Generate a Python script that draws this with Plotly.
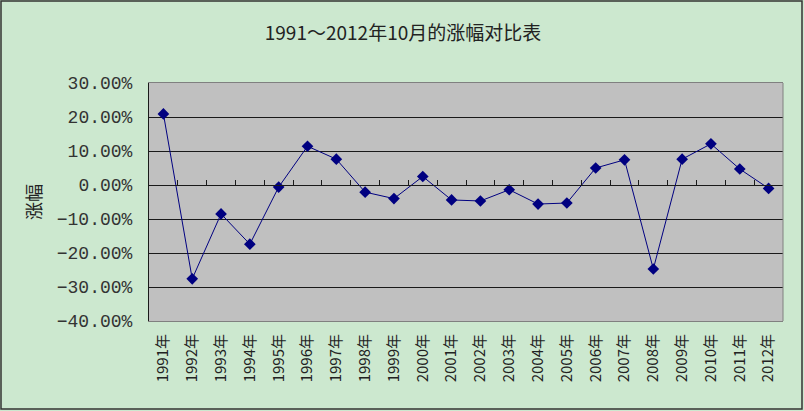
import plotly.graph_objects as go

years = ["1991年", "1992年", "1993年", "1994年", "1995年", "1996年", "1997年", "1998年",
         "1999年", "2000年", "2001年", "2002年", "2003年", "2004年", "2005年", "2006年",
         "2007年", "2008年", "2009年", "2010年", "2011年", "2012年"]
change = [0.209, -0.276, -0.085, -0.174, -0.006, 0.114, 0.076, -0.021,
          -0.040, 0.025, -0.044, -0.047, -0.014, -0.056, -0.053, 0.050,
          0.074, -0.247, 0.076, 0.121, 0.047, -0.010]
y_ticks = [-0.4, -0.3, -0.2, -0.1, 0.0, 0.1, 0.2, 0.3]

W, H = 804, 411
ML, MR, MT, MB = 149, 21, 83, 90
PW, PH = W - ML - MR, H - MT - MB

BG = "#CCE8CF"
PLOT_BG = "#C0C0C0"
NAVY = "#000080"
TXT = "#222222"
CJK = "Noto Sans CJK SC"

fig = go.Figure()
fig.add_trace(go.Scatter(
    x=years, y=change, mode="lines+markers",
    line=dict(color=NAVY, width=1),
    marker=dict(symbol="diamond", size=9, color=NAVY),
    hoverinfo="x+y", showlegend=False,
))
# invisible trace on overlay axis to carry the zero-crossing category axis
fig.add_trace(go.Scatter(x=years, y=change, xaxis="x2", mode="markers",
                         marker=dict(opacity=0), showlegend=False, hoverinfo="skip"))

ymin, ymax = -0.4, 0.3
zero_pos = (0 - ymin) / (ymax - ymin)

fig.update_layout(
    width=W, height=H,
    margin=dict(l=ML, r=MR, t=MT, b=MB, pad=0),
    paper_bgcolor=BG, plot_bgcolor=PLOT_BG,
    title=dict(text="1991～2012年10月的涨幅对比表", x=403 / W, xanchor="center",
               y=1 - 33 / H, yanchor="middle",
               font=dict(family=CJK, size=19, color=TXT)),
    xaxis=dict(type="category", categoryorder="array", categoryarray=years,
               range=[-0.5, len(years) - 0.5],
               showgrid=False, zeroline=False,
               showline=True, linecolor="#808080", linewidth=1, mirror=True,
               ticks="", tickangle=-90,
               tickfont=dict(family=CJK, size=15, color=TXT),
               ticklabelstandoff=6),
    xaxis2=dict(type="category", categoryorder="array", categoryarray=years,
                overlaying="x", anchor="free", position=zero_pos,
                range=[-0.5, len(years) - 0.5], matches="x",
                showgrid=False, zeroline=False, showticklabels=False,
                showline=True, linecolor="#1a1a1a", linewidth=1,
                ticks="inside", tickson="boundaries", ticklen=5,
                tickcolor="#1a1a1a", tickwidth=1),
    yaxis=dict(range=[ymin, ymax], tickvals=y_ticks, tickformat=".2%",
               showgrid=True, gridcolor="#1a1a1a", gridwidth=1,
               zeroline=False, showline=True, linecolor="#1a1a1a", linewidth=1,
               ticks="inside", ticklen=6, tickcolor="#1a1a1a",
               tickfont=dict(family="Liberation Mono", size=18, color="#333333"),
               ticklabelstandoff=12),
    annotations=[dict(text="涨幅", textangle=-90, xref="paper", yref="paper",
                      x=(33 - ML) / PW, y=0.5, xanchor="center", yanchor="middle",
                      showarrow=False, font=dict(family=CJK, size=18, color=TXT))],
    shapes=[
        dict(type="line", xref="paper", yref="paper", x0=1, x1=1, y0=0, y1=1,
             line=dict(color="#808080", width=1)),
        dict(type="rect", xref="paper", yref="paper",
             x0=(1 - ML) / PW, x1=(W - 2 - ML) / PW,
             y0=-(H - 2 - MT - PH) / PH, y1=1 + (MT - 1) / PH,
             line=dict(color="#333333", width=1.5), fillcolor="rgba(0,0,0,0)"),
    ],
)

fig.write_html("out.html")
